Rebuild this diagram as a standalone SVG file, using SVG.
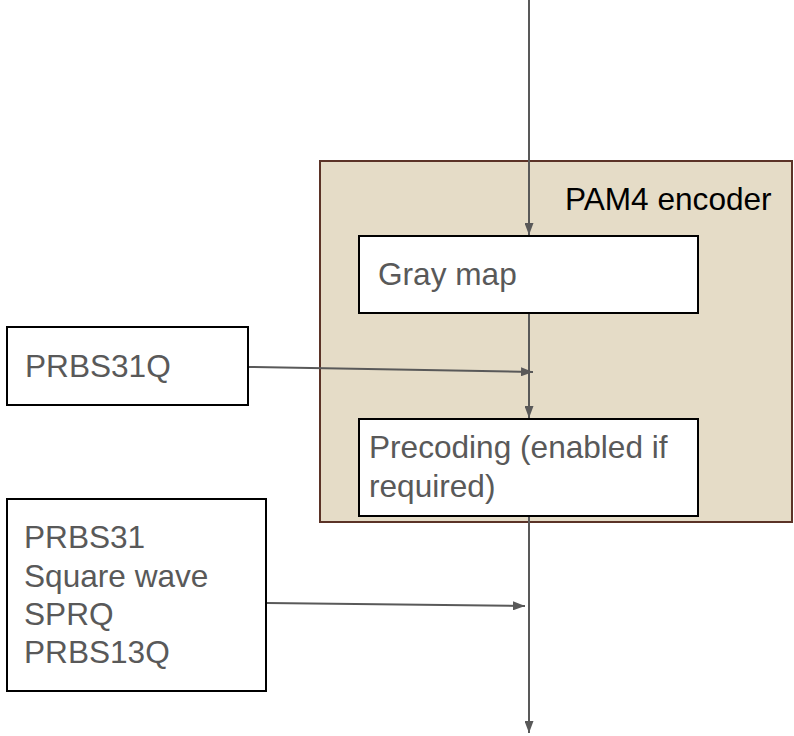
<svg xmlns="http://www.w3.org/2000/svg" width="794" height="736" viewBox="0 0 794 736">
<style>
  .box { fill: #ffffff; stroke: #000000; stroke-width: 2; }
  .outer { fill: #e5dcc7; stroke: #5b3327; stroke-width: 2; }
  .lbl { font-family: "Liberation Sans", Arial, sans-serif; font-size: 31.6px; fill: #595959; }
  .title { font-family: "Liberation Sans", Arial, sans-serif; font-size: 31.6px; fill: #000000; }
  .edge { fill: none; stroke: #595959; stroke-width: 2; }
</style>
<defs>
  <marker id="arr" viewBox="0 0 12 9" refX="12" refY="4.5" markerWidth="6" markerHeight="4.5" orient="auto" markerUnits="strokeWidth">
    <path d="M0,0 L12,4.5 L0,9 z" fill="#595959"/>
  </marker>
</defs>
<rect width="794" height="736" fill="#ffffff"/>
<g id="pam4-encoder">
  <rect class="outer" x="320" y="161" width="472" height="361"/>
  <text class="title" x="565" y="210">PAM4 encoder</text>
</g>
<g id="gray-map">
  <rect class="box" x="359" y="236" width="339" height="77"/>
  <text class="lbl" x="378" y="285">Gray map</text>
</g>
<g id="precoding">
  <rect class="box" x="359" y="419" width="339" height="97"/>
  <text class="lbl" x="369" y="458">Precoding (enabled if</text>
  <text class="lbl" x="369" y="497">required)</text>
</g>
<g id="prbs31q">
  <rect class="box" x="7" y="327" width="241" height="78"/>
  <text class="lbl" x="25" y="377">PRBS31Q</text>
</g>
<g id="patterns">
  <rect class="box" x="7" y="499" width="259" height="192"/>
  <text class="lbl" x="24" y="548">PRBS31</text>
  <text class="lbl" x="24" y="587">Square wave</text>
  <text class="lbl" x="24" y="625">SPRQ</text>
  <text class="lbl" x="24" y="663">PRBS13Q</text>
</g>
<g id="connectors">
  <line class="edge" x1="529" y1="0" x2="529" y2="235" marker-end="url(#arr)"/>
  <line class="edge" x1="529" y1="314" x2="529" y2="418" marker-end="url(#arr)"/>
  <line class="edge" x1="529" y1="517" x2="529" y2="733" marker-end="url(#arr)"/>
  <line class="edge" x1="249" y1="367" x2="533" y2="372" marker-end="url(#arr)"/>
  <line class="edge" x1="267" y1="603" x2="525" y2="606" marker-end="url(#arr)"/>
</g>
</svg>
